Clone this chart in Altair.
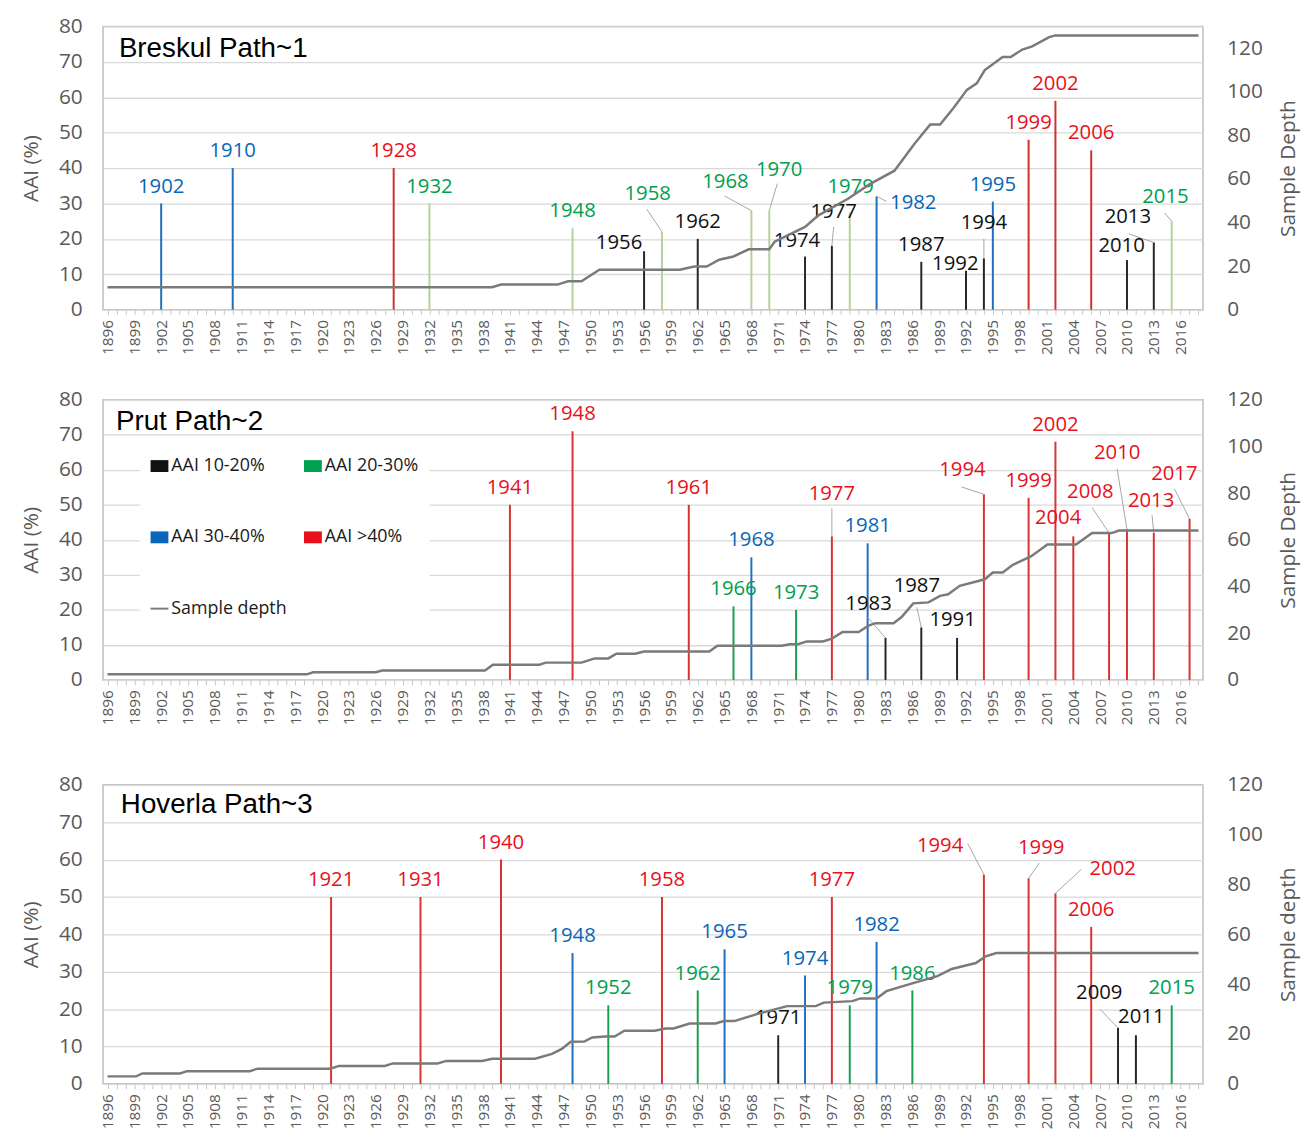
import altair as alt
import pandas as pd

# ---------------- data ----------------
CLASS_CODES = {"k": "AAI 10-20%", "g": "AAI 20-30%", "b": "AAI 30-40%", "r": "AAI >40%"}
CLASS_ORDER = ["AAI 10-20%", "AAI 20-30%", "AAI 30-40%", "AAI >40%"]
DEPTH_LABEL = "Sample depth"
x_tick_years = list(range(1896, 2019))
aai_ticks = [0, 10, 20, 30, 40, 50, 60, 70, 80]
depth_ticks = [0, 20, 40, 60, 80, 100, 120]

# Breskul Path~1
p1_years = [1902, 1910, 1928, 1932, 1948, 1956, 1958, 1962, 1968, 1970, 1974, 1977,
            1979, 1982, 1987, 1992, 1994, 1995, 1999, 2002, 2006, 2010, 2013, 2015]
p1_aai = [30, 40, 40, 30, 23, 16.5, 22, 20, 28, 28, 15, 18,
          27.5, 32, 13.5, 11, 14.5, 30.5, 48, 59, 45, 14, 19, 25]
p1_class = ["b", "b", "r", "g", "g", "k", "g", "k", "g", "g", "k", "k",
            "g", "b", "k", "k", "k", "b", "r", "r", "r", "k", "k", "g"]
p1_depth_year = [1896, 1939, 1940, 1946.3, 1947.5, 1949, 1951, 1960, 1961.6, 1963,
                 1964.4, 1966, 1967.7, 1970, 1970.6, 1974, 1975.5, 1978.8, 1981.2, 1984,
                 1986.2, 1988, 1989.1, 1990.6, 1992.1, 1993.2, 1994.1, 1996.1, 1997, 1998.3,
                 1999.4, 2001.3, 2002, 2018]
p1_depth = [10.3, 10.3, 11.5, 11.5, 13, 13, 18.3, 18.3, 19.8, 19.8,
            22.9, 24.4, 27.7, 27.7, 31.2, 38, 43.3, 50.9, 57.5, 63.8,
            75.9, 85, 85, 92.6, 100.9, 103.9, 110, 116, 116, 119.4,
            120.9, 125.1, 125.9, 125.9]

# Prut Path~2
p2_years = [1941, 1948, 1961, 1966, 1968, 1973, 1977, 1981, 1983, 1987, 1991, 1994,
            1999, 2002, 2004, 2008, 2010, 2013, 2017]
p2_aai = [50, 71, 50, 21, 35, 20, 41, 39, 12, 15, 12, 53, 52, 68, 41, 42, 43, 42, 46]
p2_class = ["r", "r", "r", "g", "b", "g", "r", "b", "k", "k", "k", "r",
            "r", "r", "r", "r", "r", "r", "r"]
p2_depth_year = [1896, 1918.3, 1919, 1926, 1926.7, 1938.2, 1939.1, 1944.3, 1945, 1949,
                 1950.5, 1952, 1952.9, 1955, 1956, 1963.3, 1964.2, 1971.4, 1972.3, 1973.2,
                 1974.2, 1976, 1977, 1978.2, 1980, 1981.1, 1981.9, 1983.9, 1984.8, 1986.1,
                 1987.8, 1989.1, 1990, 1991.3, 1994.1, 1995, 1996.1, 1997.2, 1999.3, 2001.1,
                 2004.3, 2006.1, 2008.3, 2009.1, 2018]
p2_depth = [2.4, 2.4, 3.3, 3.3, 4.0, 4.0, 6.5, 6.5, 7.4, 7.4,
            9.2, 9.2, 11.2, 11.2, 12.2, 12.2, 14.6, 14.6, 15.3, 15.3,
            16.5, 16.5, 17.7, 20.5, 20.5, 23.3, 24.3, 24.3, 26.9, 32.8,
            33.2, 36, 36.7, 40.3, 43.1, 46, 46, 49.2, 53, 58,
            58, 62.9, 62.9, 64, 64]

# Hoverla Path~3
p3_years = [1921, 1931, 1940, 1948, 1952, 1958, 1962, 1965, 1971, 1974, 1977, 1979,
            1982, 1986, 1994, 1999, 2002, 2006, 2009, 2011, 2015]
p3_aai = [50, 50, 60, 35, 21, 50, 25, 36, 13, 29, 50, 21, 38, 25, 56, 55, 51, 42, 15, 13, 21]
p3_class = ["r", "r", "r", "b", "g", "r", "g", "b", "k", "b", "r", "g",
            "b", "g", "r", "r", "r", "r", "k", "k", "g"]
p3_depth_year = [1896, 1899.2, 1899.9, 1904.1, 1904.9, 1911.9, 1912.8, 1920.9, 1921.9, 1927,
                 1927.9, 1932.9, 1933.9, 1937.9, 1939, 1943.8, 1945.7, 1946.8, 1947.8, 1949.3,
                 1950.2, 1951.6, 1952.7, 1953.8, 1957.2, 1958.4, 1959.3, 1961.1, 1964, 1964.9,
                 1966.1, 1968.8, 1972, 1975.2, 1976.1, 1979.3, 1980.2, 1982, 1983.1, 1985.6,
                 1988.8, 1990.4, 1993.1, 1994.2, 1995.4, 2018]
p3_depth = [3, 3, 4.2, 4.2, 5.1, 5.1, 6.1, 6.1, 7.2, 7.2,
            8.2, 8.2, 9.2, 9.2, 10.1, 10.1, 12, 14, 16.9, 17,
            18.6, 19, 19, 21.3, 21.3, 22.2, 22.2, 24.2, 24.2, 25.2,
            25.2, 28.2, 31.2, 31.2, 32.6, 33.2, 34.3, 34.3, 37.2, 39.9,
            43.2, 46.1, 48.5, 51.2, 52.5, 52.5]

# moved data labels (in data units): year -> (label year, label AAI, leader-start year, leader-start AAI)
p1_moved = {
    1956: (1953.2, 17.0, None, None),
    1958: (1956.4, 30.9, 1956.3, 28.4),
    1968: (1965.1, 34.5, 1965.0, 32.1),
    1970: (1971.1, 37.7, 1970.9, 35.6),
    1974: (1973.1, 17.7, None, None),
    1977: (1977.2, 25.8, 1977.2, 23.4),
    1979: (1979.1, 32.9, None, None),
    1982: (1986.1, 28.4, 1983.1, 30.6),
    1992: (1990.8, 11.2, None, None),
    1994: (1994.0, 22.7, 1994.0, 20.0),
    2010: (2009.4, 16.3, None, None),
    2013: (2010.1, 24.4, 2010.2, 21.4),
    2015: (2014.3, 30.0, 2014.2, 27.3),
}
p2_moved = {
    1977: (1977.0, 51.3, 1977.0, 49.0),
    1983: (1981.1, 20.0, 1981.0, 17.9),
    1987: (1986.5, 25.2, 1986.5, 20.7),
    1991: (1990.5, 15.5, None, None),
    1994: (1991.6, 58.2, 1991.5, 55.1),
    2004: (2002.3, 44.4, None, None),
    2008: (2005.9, 51.8, 2006.1, 49.2),
    2010: (2008.9, 63.1, 2008.9, 60.3),
    2013: (2012.7, 49.4, 2012.8, 47.1),
    2017: (2015.3, 57.0, 2015.3, 54.6),
}
p3_moved = {
    1994: (1989.1, 62.1, 1992.2, 64.3),
    1999: (2000.4, 61.4, 2000.2, 59.1),
    2002: (2008.4, 55.9, 2004.9, 57.4),
    2009: (2006.9, 22.6, 2007.0, 19.9),
    2011: (2011.6, 16.4, None, None),
}

# ---------------- styles ----------------
FONT = "Open Sans"
AXIS_GRAY = "#595959"
DEPTH_COLOR = "#7a7a7a"
TEXT_COLORS = ["#111111", "#00a04e", "#0a66b8", "#e8101c"]
LINE_P1 = ["#262626", "#b5d19b", "#1f6fbf", "#d0302c"]
LINE_P23 = ["#262626", "#1a9e50", "#1f6fbf", "#d83232"]
RECT = "M-1,-0.667L1,-0.667L1,0.667L-1,0.667Z"
DASH = "M-1,-0.11L1,-0.11L1,0.11L-1,0.11Z"
W = 1111

xscale = alt.Scale(domain=[1895.5, 2018.5], nice=False, zero=False)
yscale = alt.Scale(domain=[0, 80], nice=False, zero=True)
yaxis = alt.Axis(values=aai_ticks, title="AAI (%)", grid=True, gridColor="#d9d9d9",
                 gridWidth=1.3, ticks=False, tickSize=0, domain=False,
                 labelFontSize=21, labelFont=FONT, labelColor=AXIS_GRAY, labelPadding=21,
                 titleFontSize=21, titleFont=FONT, titleColor=AXIS_GRAY,
                 titleFontWeight="normal", titlePadding=17)
# shared across the three panels
fscale = alt.Scale(domain=CLASS_ORDER + [DEPTH_LABEL], range=TEXT_COLORS + [DEPTH_COLOR])
sscale = alt.Scale(domain=CLASS_ORDER + [DEPTH_LABEL], range=[RECT] * 4 + [DASH])

legend2 = alt.Legend(title=None, orient="none", legendX=37, legendY=424, columns=2,
                     direction="horizontal", columnPadding=17, rowPadding=54, padding=11,
                     fillColor="white", symbolSize=324, symbolStrokeWidth=0,
                     symbolOpacity=1, labelFontSize=18, labelFont=FONT,
                     labelColor="#1a1a1a", labelOffset=3)


def make_xaxis():
    return alt.Axis(values=x_tick_years, format="d",
                    labelExpr="(datum.value - 1896) % 3 === 0 ? datum.label : ''",
                    labelAngle=270, labelFontSize=15.5, labelFont=FONT, labelColor=AXIS_GRAY,
                    tickSize=5, tickColor="#c8c8c8", tickWidth=1, labelPadding=5,
                    domain=False, grid=False, labelOverlap=False, labelFlush=False,
                    labelBound=False, titleFontSize=12, titlePadding=4)


def Y(field):
    return alt.Y(field, type="quantitative", scale=yscale, axis=yaxis)


def make_panel(name, years, aai, classes, dyears, depth, moved, line_range, depth_max,
               height, depth_title, with_legend, title_dx, title_base, x_title):
    xaxis = make_xaxis()

    def X(field):
        return alt.X(field, type="quantitative", scale=xscale, axis=xaxis, title=x_title)

    cls = [CLASS_CODES[c] for c in classes]
    ev = pd.DataFrame({"year": years, "aai": aai, "cls": cls})
    ev["base"] = 0.0
    ev["label"] = [str(y) for y in years]
    default_lab = ev[~ev["year"].isin(list(moved.keys()))]
    moved_rows, leader_rows = [], []
    for y, a, c in zip(years, aai, cls):
        if y in moved:
            lx, ly, sx, sy = moved[y]
            moved_rows.append({"lx": lx, "ly": ly, "label": str(y), "cls": c})
            if sx is not None:
                leader_rows.append({"sx": sx, "sy": sy, "year": y, "aai": a})
    mv = pd.DataFrame(moved_rows)
    ld = pd.DataFrame(leader_rows)
    dp = pd.DataFrame({"year": dyears, "depth": depth, "series": DEPTH_LABEL})

    cscale = alt.Scale(domain=CLASS_ORDER + [DEPTH_LABEL], range=line_range + [DEPTH_COLOR])

    rules = alt.Chart(ev).mark_rule(strokeWidth=2).encode(
        x=X("year"), y=Y("aai"), y2=alt.Y2("base"),
        color=alt.Color("cls:N", scale=cscale, legend=None))
    layers = [rules]
    if len(ld):
        layers.append(alt.Chart(ld).mark_rule(strokeWidth=1, color="#a6a6a6").encode(
            x=X("sx"), y=Y("sy"), x2=alt.X2("year"), y2=alt.Y2("aai")))
    layers.append(alt.Chart(default_lab).mark_text(
        fontSize=20.5, font=FONT, baseline="alphabetic", dy=-11).encode(
        x=X("year"), y=Y("aai"), text="label:N", fill=alt.Fill("cls:N", scale=fscale)))
    if len(mv):
        layers.append(alt.Chart(mv).mark_text(
            fontSize=20.5, font=FONT, baseline="alphabetic").encode(
            x=X("lx"), y=Y("ly"), text="label:N", fill=alt.Fill("cls:N", scale=fscale)))
    if with_legend:
        # legend carrier: invisible points keyed on the same classes
        layers.append(alt.Chart(ev).mark_point(filled=True, opacity=0).encode(
            x=X("year"), y=Y("aai"),
            fill=alt.Fill("cls:N", scale=fscale, legend=legend2),
            shape=alt.Shape("cls:N", scale=sscale, legend=legend2)))
    # panel caption
    layers.append(alt.Chart(pd.DataFrame({"t": [name]})).mark_text(
        align="left", baseline="alphabetic", fontSize=28, font="Liberation Sans",
        color="#000000").encode(x=alt.value(title_dx), y=alt.value(title_base), text="t:N"))
    left = alt.layer(*layers)

    daxis = alt.Axis(orient="right", values=depth_ticks, title=depth_title, grid=False,
                     ticks=False, tickSize=0, domain=False, labelFontSize=21, labelFont=FONT,
                     labelColor=AXIS_GRAY, labelPadding=24, titleFontSize=21, titleFont=FONT,
                     titleColor=AXIS_GRAY, titleFontWeight="normal", titleAngle=270,
                     titleBaseline="top", titlePadding=15)
    line = alt.Chart(dp).mark_line(strokeWidth=2.5).encode(
        x=X("year"),
        y=alt.Y("depth:Q", scale=alt.Scale(domain=[0, depth_max], nice=False), axis=daxis),
        color=alt.Color("series:N", scale=cscale, legend=None))

    return alt.layer(left, line).resolve_scale(y="independent").properties(
        width=W, height=height)


p1 = make_panel("Breskul Path~1", p1_years, p1_aai, p1_class, p1_depth_year, p1_depth,
                p1_moved, LINE_P1, 130, 286, "Sample Depth", False, 16, 31, None)
p2 = make_panel("Prut Path~2", p2_years, p2_aai, p2_class, p2_depth_year, p2_depth,
                p2_moved, LINE_P23, 120, 283, "Sample Depth", True, 13, 31, " ")
p3 = make_panel("Hoverla Path~3", p3_years, p3_aai, p3_class, p3_depth_year, p3_depth,
                p3_moved, LINE_P23, 120, 302, "Sample depth", False, 18, 28, None)

chart = alt.vconcat(p1, p2, p3, spacing=32).resolve_scale(
    color="independent", x="independent", y="independent"
).properties(
    padding={"left": 12, "top": 1, "right": 2, "bottom": 0}
).configure_view(stroke="#bdbdbd", strokeWidth=1.5)

chart.save("out.html", embed_options={"renderer": "svg", "actions": False})
